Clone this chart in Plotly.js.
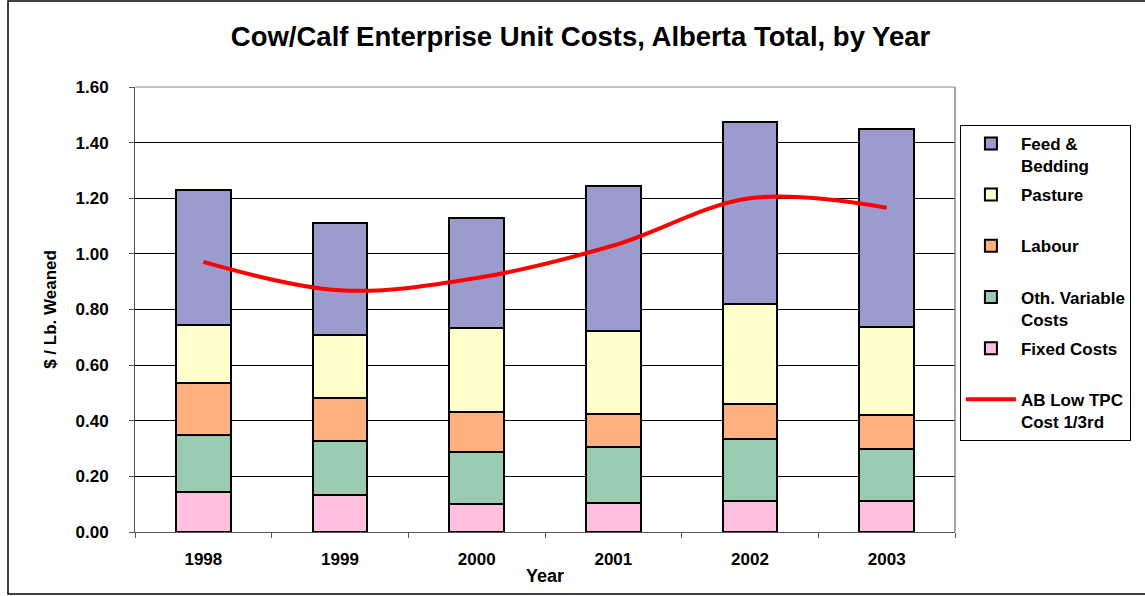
<!DOCTYPE html>
<html>
<head>
<meta charset="utf-8">
<script src="https://cdn.plot.ly/plotly-3.0.1.min.js"></script>
<style>html,body{margin:0;padding:0;background:#fff;}#chart{width:1145px;height:596px;}</style>
</head>
<body>
<div id="chart"></div>
<script>
const years = ["1998", "1999", "2000", "2001", "2002", "2003"];
const fixedCosts = [0.145, 0.133, 0.100, 0.103, 0.112, 0.112];
const othVariable = [0.205, 0.194, 0.186, 0.201, 0.223, 0.186];
const labour = [0.186, 0.155, 0.145, 0.120, 0.127, 0.122];
const pasture = [0.210, 0.228, 0.303, 0.299, 0.357, 0.316];
const feedBedding = [0.483, 0.402, 0.395, 0.521, 0.654, 0.713];
const abLowTPC = [0.971, 0.869, 0.913, 1.030, 1.200, 1.166];

const F = "Liberation Sans";
function bar(name, y, color, rank, grp) {
  return {type: "bar", name: name, x: years, y: y, legendrank: rank, legendgroup: grp,
    marker: {color: color, line: {color: "#000", width: 2}}};
}
const traces = [
  bar("Fixed Costs<br> ", fixedCosts, "#FFBFE0", 5, "e"),
  bar("Oth. Variable<br>Costs", othVariable, "#99CCB1", 4, "d"),
  bar("Labour<br> ", labour, "#FFB07F", 3, "c"),
  bar("Pasture<br> ", pasture, "#FFFFCC", 2, "b"),
  bar("Feed &<br>Bedding", feedBedding, "#9B9BCE", 1, "a"),
  {type: "scatter", mode: "lines", name: "AB Low TPC<br>Cost 1/3rd", x: years, y: abLowTPC,
   legendrank: 6, legendgroup: "f",
   line: {color: "#FF0000", width: 4, shape: "spline", smoothing: 1}}
];
const layout = {
  width: 1145, height: 596,
  margin: {l: 135, r: 190, t: 87, b: 64},
  paper_bgcolor: "#fff", plot_bgcolor: "#fff",
  barmode: "stack", bargap: 0.6,
  font: {family: F, color: "#000", weight: "bold"},
  title: {text: "Cow/Calf Enterprise Unit Costs, Alberta Total, by Year",
    font: {family: F, size: 27.5, color: "#000", weight: "bold"}, x: 0.507, xanchor: "center", y: 0.9396, yanchor: "middle"},
  xaxis: {type: "category", tickson: "boundaries", ticks: "outside", ticklen: 5, tickcolor: "#555",
    showline: true, linecolor: "#555", linewidth: 1, showgrid: false, ticklabelstandoff: 12,
    tickfont: {family: F, size: 17, color: "#000", weight: "bold"},
    title: {text: "Year", font: {family: F, size: 18, color: "#000", weight: "bold"}, standoff: 0}},
  yaxis: {range: [0, 1.6], dtick: 0.2, tickformat: ".2f", ticks: "outside", ticklen: 5, tickcolor: "#555",
    showline: true, linecolor: "#555", linewidth: 1, showgrid: true, gridcolor: "#000", gridwidth: 1,
    zeroline: false, ticklabelstandoff: 17,
    tickfont: {family: F, size: 17, color: "#000", weight: "bold"},
    title: {text: "$ / Lb. Weaned", font: {family: F, size: 17, color: "#000", weight: "bold"}, standoff: 14}},
  legend: {x: 1.006, xanchor: "left", y: 0.915, yanchor: "top", traceorder: "grouped", tracegroupgap: 4,
    bordercolor: "#000", borderwidth: 1, bgcolor: "#fff", valign: "top",
    font: {family: F, size: 17, color: "#000", weight: "bold"}, itemwidth: 50},
  shapes: [
    {type: "rect", xref: "paper", yref: "paper", x0: 1, x1: 1, y0: 0, y1: 1, line: {color: "#888", width: 1}},
    {type: "line", xref: "paper", yref: "paper", x0: 0, x1: 1, y0: 1, y1: 1, line: {color: "#888", width: 1}},
    {type: "rect", xref: "paper", yref: "paper", x0: (8 - 135) / 820, x1: (1160 - 135) / 820,
      y0: (532 - 594) / 445, y1: (532 - 1) / 445, line: {color: "#000", width: 1.5}, layer: "below"}
  ]
};
Plotly.newPlot("chart", traces, layout, {displayModeBar: false, staticPlot: true});
</script>
</body>
</html>
